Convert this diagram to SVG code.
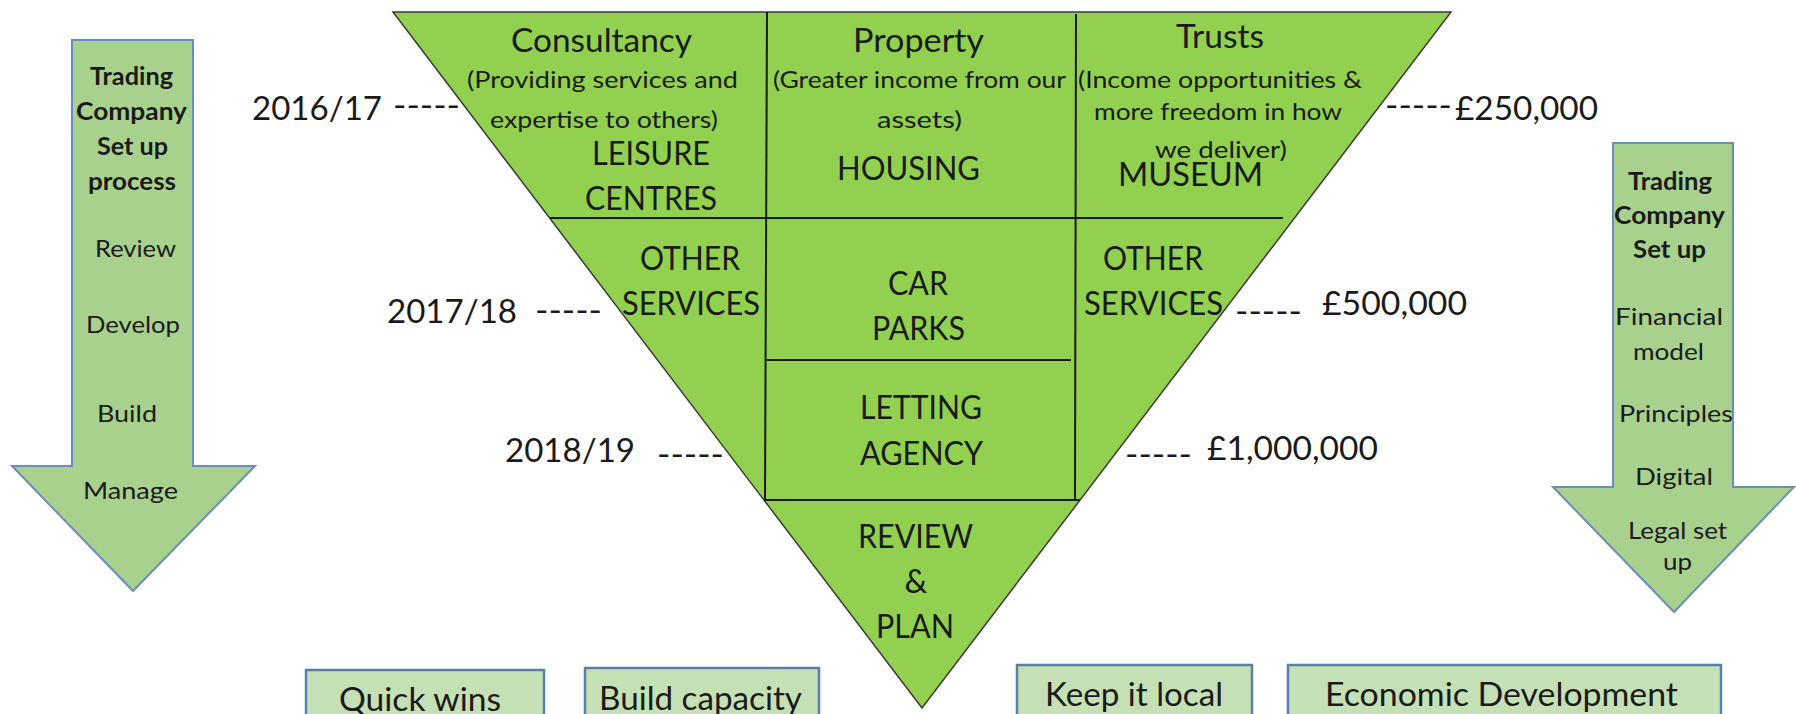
<svg xmlns="http://www.w3.org/2000/svg" width="1796" height="714" viewBox="0 0 1796 714">
<style>
text{font-family:Lato,"Open Sans","Liberation Sans",sans-serif;fill:#1a1a1a}
.big{font-size:32px}
.sm{font-size:24px}
.arr{font-size:24px}
.b{font-weight:bold}
.tri{fill:#92D050;stroke:#3a3a3a;stroke-width:1.5}
.div{stroke:#1a1a1a;stroke-width:2;fill:none}
.arrow{fill:#A9D18E;stroke:#6A8EBB;stroke-width:2}
.box{fill:#C5E0B4;stroke:#5A7FAD;stroke-width:2.5}
</style>
<rect width="1796" height="714" fill="#ffffff"/>

<g id="funnel">
<polygon class="tri" points="393,12 1451,12 922,708"/>
</g>

<g id="connectors">
<line class="div" x1="767" y1="12" x2="765" y2="500"/>
<line class="div" x1="1076" y1="14" x2="1075" y2="500"/>
<line class="div" x1="550" y1="218" x2="1283" y2="218"/>
<line class="div" x1="767" y1="360" x2="1071" y2="360"/>
<line class="div" x1="764" y1="500" x2="1080" y2="500"/>
</g>

<g id="consultancy">
<text class="big" x="511" y="52" textLength="181" lengthAdjust="spacingAndGlyphs">Consultancy</text>
<text class="sm" x="467" y="88" textLength="271" lengthAdjust="spacingAndGlyphs">(Providing services and</text>
<text class="sm" x="490" y="128" textLength="228" lengthAdjust="spacingAndGlyphs">expertise to others)</text>
<text class="big" x="592" y="165" textLength="118" lengthAdjust="spacingAndGlyphs">LEISURE</text>
<text class="big" x="585" y="210" textLength="132" lengthAdjust="spacingAndGlyphs">CENTRES</text>
</g>

<g id="property">
<text class="big" x="853" y="52" textLength="131" lengthAdjust="spacingAndGlyphs">Property</text>
<text class="sm" x="773" y="88" textLength="293" lengthAdjust="spacingAndGlyphs">(Greater income from our</text>
<text class="sm" x="877" y="128" textLength="85" lengthAdjust="spacingAndGlyphs">assets)</text>
<text class="big" x="837" y="180" textLength="143" lengthAdjust="spacingAndGlyphs">HOUSING</text>
</g>

<g id="trusts">
<text class="big" x="1176" y="48" textLength="88" lengthAdjust="spacingAndGlyphs">Trusts</text>
<text class="sm" x="1078" y="88" textLength="284" lengthAdjust="spacingAndGlyphs">(Income opportunities &amp;</text>
<text class="sm" x="1094" y="120" textLength="248" lengthAdjust="spacingAndGlyphs">more freedom in how</text>
<text class="sm" x="1155" y="158" textLength="132" lengthAdjust="spacingAndGlyphs">we deliver)</text>
<text class="big" x="1118" y="186" textLength="145" lengthAdjust="spacingAndGlyphs">MUSEUM</text>
</g>

<g id="other-services-left">
<text class="big" x="640" y="270" textLength="100" lengthAdjust="spacingAndGlyphs">OTHER</text>
<text class="big" x="622" y="315" textLength="138" lengthAdjust="spacingAndGlyphs">SERVICES</text>
</g>

<g id="car-parks">
<text class="big" x="888" y="295" textLength="60" lengthAdjust="spacingAndGlyphs">CAR</text>
<text class="big" x="872" y="340" textLength="93" lengthAdjust="spacingAndGlyphs">PARKS</text>
</g>

<g id="letting-agency">
<text class="big" x="860" y="419" textLength="122" lengthAdjust="spacingAndGlyphs">LETTING</text>
<text class="big" x="860" y="465" textLength="123" lengthAdjust="spacingAndGlyphs">AGENCY</text>
</g>

<g id="other-services-right">
<text class="big" x="1103" y="270" textLength="100" lengthAdjust="spacingAndGlyphs">OTHER</text>
<text class="big" x="1084" y="315" textLength="139" lengthAdjust="spacingAndGlyphs">SERVICES</text>
</g>

<g id="review-plan">
<text class="big" x="858" y="548" textLength="115" lengthAdjust="spacingAndGlyphs">REVIEW</text>
<text class="big" x="916" y="593" text-anchor="middle">&amp;</text>
<text class="big" x="876" y="638" textLength="78" lengthAdjust="spacingAndGlyphs">PLAN</text>
</g>

<g id="years">
<text class="big" x="252" y="120" textLength="130" lengthAdjust="spacingAndGlyphs">2016/17</text>
<text class="big" x="393" y="117" textLength="67" lengthAdjust="spacingAndGlyphs">-----</text>
<text class="big" x="387" y="323" textLength="130" lengthAdjust="spacingAndGlyphs">2017/18</text>
<text class="big" x="535" y="322" textLength="67" lengthAdjust="spacingAndGlyphs">-----</text>
<text class="big" x="505" y="462" textLength="130" lengthAdjust="spacingAndGlyphs">2018/19</text>
<text class="big" x="657" y="466" textLength="67" lengthAdjust="spacingAndGlyphs">-----</text>
</g>

<g id="amounts">
<text class="big" x="1385" y="117" textLength="67" lengthAdjust="spacingAndGlyphs">-----</text>
<text class="big" x="1455" y="120" textLength="143" lengthAdjust="spacingAndGlyphs">£250,000</text>
<text class="big" x="1235" y="323" textLength="67" lengthAdjust="spacingAndGlyphs">-----</text>
<text class="big" x="1322" y="315" textLength="145" lengthAdjust="spacingAndGlyphs">£500,000</text>
<text class="big" x="1125" y="466" textLength="67" lengthAdjust="spacingAndGlyphs">-----</text>
<text class="big" x="1207" y="460" textLength="171" lengthAdjust="spacingAndGlyphs">£1,000,000</text>
</g>

<g id="left-arrow">
<path class="arrow" d="M72,40 H193 V466 H255 L133,591 L12,466 H72 Z"/>
<text class="arr b" x="90" y="85" textLength="83" lengthAdjust="spacingAndGlyphs">Trading</text>
<text class="arr b" x="76" y="120" textLength="111" lengthAdjust="spacingAndGlyphs">Company</text>
<text class="arr b" x="97" y="155" textLength="71" lengthAdjust="spacingAndGlyphs">Set up</text>
<text class="arr b" x="88" y="190" textLength="88" lengthAdjust="spacingAndGlyphs">process</text>
<text class="arr" x="95" y="257" textLength="81" lengthAdjust="spacingAndGlyphs">Review</text>
<text class="arr" x="86" y="333" textLength="94" lengthAdjust="spacingAndGlyphs">Develop</text>
<text class="arr" x="97" y="422" textLength="60" lengthAdjust="spacingAndGlyphs">Build</text>
<text class="arr" x="83" y="499" textLength="95" lengthAdjust="spacingAndGlyphs">Manage</text>
</g>

<g id="right-arrow">
<path class="arrow" d="M1613,143 H1733 V487 H1794 L1674,612 L1553,487 H1613 Z"/>
<text class="arr b" x="1628" y="190" textLength="84" lengthAdjust="spacingAndGlyphs">Trading</text>
<text class="arr b" x="1614" y="224" textLength="111" lengthAdjust="spacingAndGlyphs">Company</text>
<text class="arr b" x="1633" y="258" textLength="73" lengthAdjust="spacingAndGlyphs">Set up</text>
<text class="arr" x="1615" y="325" textLength="108" lengthAdjust="spacingAndGlyphs">Financial</text>
<text class="arr" x="1633" y="360" textLength="71" lengthAdjust="spacingAndGlyphs">model</text>
<text class="arr" x="1619" y="422" textLength="114" lengthAdjust="spacingAndGlyphs">Principles</text>
<text class="arr" x="1635" y="485" textLength="78" lengthAdjust="spacingAndGlyphs">Digital</text>
<text class="arr" x="1628" y="539" textLength="99" lengthAdjust="spacingAndGlyphs">Legal set</text>
<text class="arr" x="1663" y="570" textLength="29" lengthAdjust="spacingAndGlyphs">up</text>
</g>

<g id="quick-wins">
<rect class="box" x="306" y="670" width="238" height="60"/>
<text class="big" x="339" y="711" textLength="162" lengthAdjust="spacingAndGlyphs">Quick wins</text>
</g>
<g id="build-capacity">
<rect class="box" x="585" y="668" width="234" height="60"/>
<text class="big" x="599" y="710" textLength="203" lengthAdjust="spacingAndGlyphs">Build capacity</text>
</g>
<g id="keep-it-local">
<rect class="box" x="1017" y="665" width="235" height="60"/>
<text class="big" x="1045" y="706" textLength="178" lengthAdjust="spacingAndGlyphs">Keep it local</text>
</g>
<g id="economic-development">
<rect class="box" x="1288" y="665" width="433" height="60"/>
<text class="big" x="1325" y="706" textLength="353" lengthAdjust="spacingAndGlyphs">Economic Development</text>
</g>
</svg>
